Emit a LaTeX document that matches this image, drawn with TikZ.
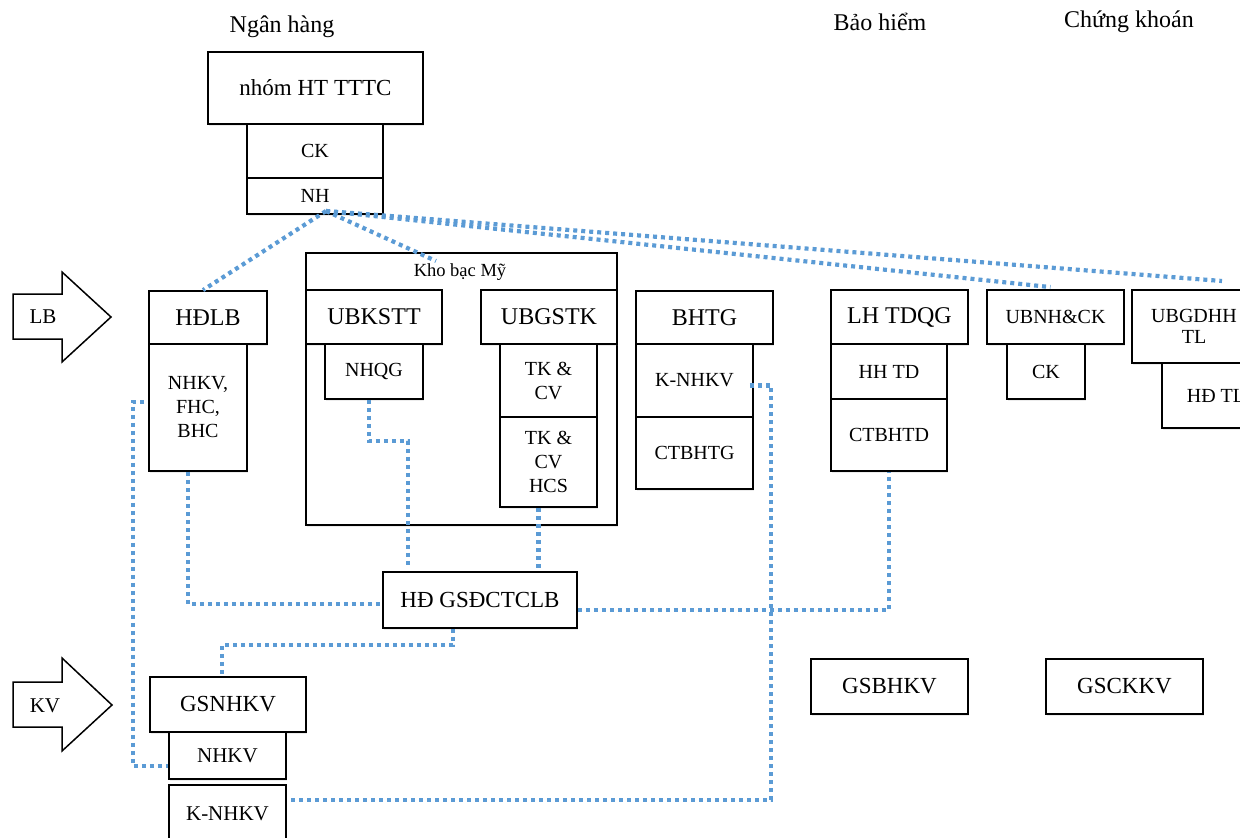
\documentclass[tikz,border=0pt]{standalone}
\usepackage{fontspec}
\setmainfont{Liberation Serif}
\usetikzlibrary{calc,shadows}
\definecolor{linkblue}{RGB}{91,155,213}
\tikzset{
  orgbox/.style={draw=black, line width=1.8pt, fill=white, inner sep=0pt, align=center,
    font=\fontsize{20}{24}\selectfont,
    drop shadow={opacity=0.15, shadow xshift=1.2pt, shadow yshift=-1.8pt}},
  big/.style={font=\fontsize{24}{28}\selectfont},
  mid/.style={font=\fontsize{23}{27}\selectfont},
  head/.style={font=\fontsize{24}{28}\selectfont},
  link/.style={draw=linkblue, line width=4.2pt, dash pattern=on 4pt off 4pt},
  sidearrow/.style={draw=black, line width=1.5pt, fill=white, line join=miter},
}
% box given by its corners (x1,y1) (x2,y2), then its name and its text
\newcommand\obox[7][]{\node[orgbox,#1, minimum width={(#4-#2)*1pt}, minimum height={(#5-#3)*1pt}] (#6) at ({(#2+#4)/2},{(#3+#5)/2}) {#7};}
\begin{document}
\begin{tikzpicture}[x=1pt,y=-1pt]
\useasboundingbox (0,0) rectangle (1240,838);
\clip (0,0) rectangle (1240,838);

% column headings
\node[head] (hbank) at (282,27) {Ngân hàng};
\node[head] (hins)  at (880,22) {Bảo hiểm};
\node[head] (hsec)  at (1129,22) {Chứng khoán};

% level arrows
\draw[sidearrow] (13,294) -- (62,294) -- (62,272) -- (111,317) -- (62,362) -- (62,339) -- (13,339) -- cycle;
\node[font=\fontsize{21}{24}\selectfont] (lb) at (43,317) {LB};
\draw[sidearrow] (13,682) -- (62,682) -- (62,658) -- (112,705) -- (62,751) -- (62,727) -- (13,727) -- cycle;
\node[font=\fontsize{21}{24}\selectfont] (kv) at (45,706) {KV};

% top group
\obox[mid]{208}{52}{423}{124}{nhom}{nhóm HT TTTC}
\obox{247}{124}{383}{178}{ckt}{CK}
\obox{247}{178}{383}{214}{nht}{NH}

% banking column
\obox[big]{149}{291}{267}{344}{hdlb}{HĐLB}
\obox{149}{344}{247}{471}{nhkvf}{NHKV,\\FHC,\\BHC}

\obox{306}{253}{617}{525}{kho}{}
\node[font=\fontsize{18.5}{20}\selectfont] (khot) at (460,272) {Kho bạc Mỹ};
\obox[big]{306}{290}{442}{344}{ubks}{UBKSTT}
\obox{325}{344}{423}{399}{nhqg}{NHQG}
\obox[big]{481}{290}{617}{344}{ubgs}{UBGSTK}
\obox{500}{344}{597}{417}{tkcv}{TK \&\\CV}
\obox{500}{417}{597}{507}{tkcvh}{TK \&\\CV\\HCS}

\obox[big]{636}{291}{773}{344}{bhtg}{BHTG}
\obox{636}{344}{753}{417}{knhkv}{K-NHKV}
\obox{636}{417}{753}{489}{ctbhtg}{CTBHTG}

% insurance column
\obox[big]{831}{290}{968}{344}{lhtd}{LH TDQG}
\obox{831}{344}{947}{399}{hhtd}{HH TD}
\obox{831}{399}{947}{471}{ctbhtd}{CTBHTD}

% securities column
\obox{987}{290}{1124}{344}{ubnh}{UBNH\&CK}
\obox{1007}{344}{1085}{399}{cks}{CK}
\obox[font=\fontsize{20}{21}\selectfont]{1132}{290}{1256}{363}{ubgd}{UBGDHH\\TL}
\obox{1162}{363}{1270}{428}{hdt}{HĐ TL}

% supervisory council
\obox[mid]{383}{572}{577}{628}{hdgs}{HĐ GSĐCTCLB}

% regional level
\obox[mid]{811}{659}{968}{714}{gsbh}{GSBHKV}
\obox[mid]{1046}{659}{1203}{714}{gsck}{GSCKKV}
\obox[mid]{150}{677}{306}{732}{gsnh}{GSNHKV}
\obox[font=\fontsize{21}{24}\selectfont]{169}{732}{286}{779}{nhkvb}{NHKV}
\obox[font=\fontsize{21}{24}\selectfont]{169}{785}{286}{842}{knhkvb}{K-NHKV}

% dotted links
\coordinate (nhs) at (326,211);
\coordinate (khoin) at (436,261);
\coordinate (ubgdt) at (1222,281);
\draw[link] (nhs) -- ($(hdlb.north)+(-5,0)$);
\draw[link] (nhs) -- (khoin);
\draw[link] (nhs) -- ($(ubnh.north)+(-5,-2)$);
\draw[link] (nhs) -- (ubgdt);

\draw[link] ($(nhkvf.south)+(-10,0)$) |- ($(hdgs.west)+(0,4)$);

\coordinate (j1) at (408,441);
\draw[link] ($(nhqg.south)+(-5,0)$) |- (j1) -- ($(j1 |- hdgs.north)+(0,-4)$);
\draw[link] ($(tkcvh.south)+(-10,0)$) -- ($(tkcvh.south |- hdgs.north)+(-10,0)$);

\coordinate (j2) at (222,645);
\draw[link] ($(hdgs.south)+(-27,0)$) |- (j2) -- (j2 |- gsnh.north);

\draw[link] ($(hdgs.east)+(0,10)$) -| (ctbhtd.south);

\coordinate (j3) at (771,800);
\draw[link] ($(knhkv.east)+(-4,5)$) -| (j3) -- (j3 -| knhkvb.east);

\coordinate (j4) at (133,402);
\coordinate (j5) at (133,766);
\draw[link] ($(nhkvf.west |- j4)+(-4,0)$) -- (j4) -- (j5) -- (j5 -| nhkvb.west);
\end{tikzpicture}
\end{document}
